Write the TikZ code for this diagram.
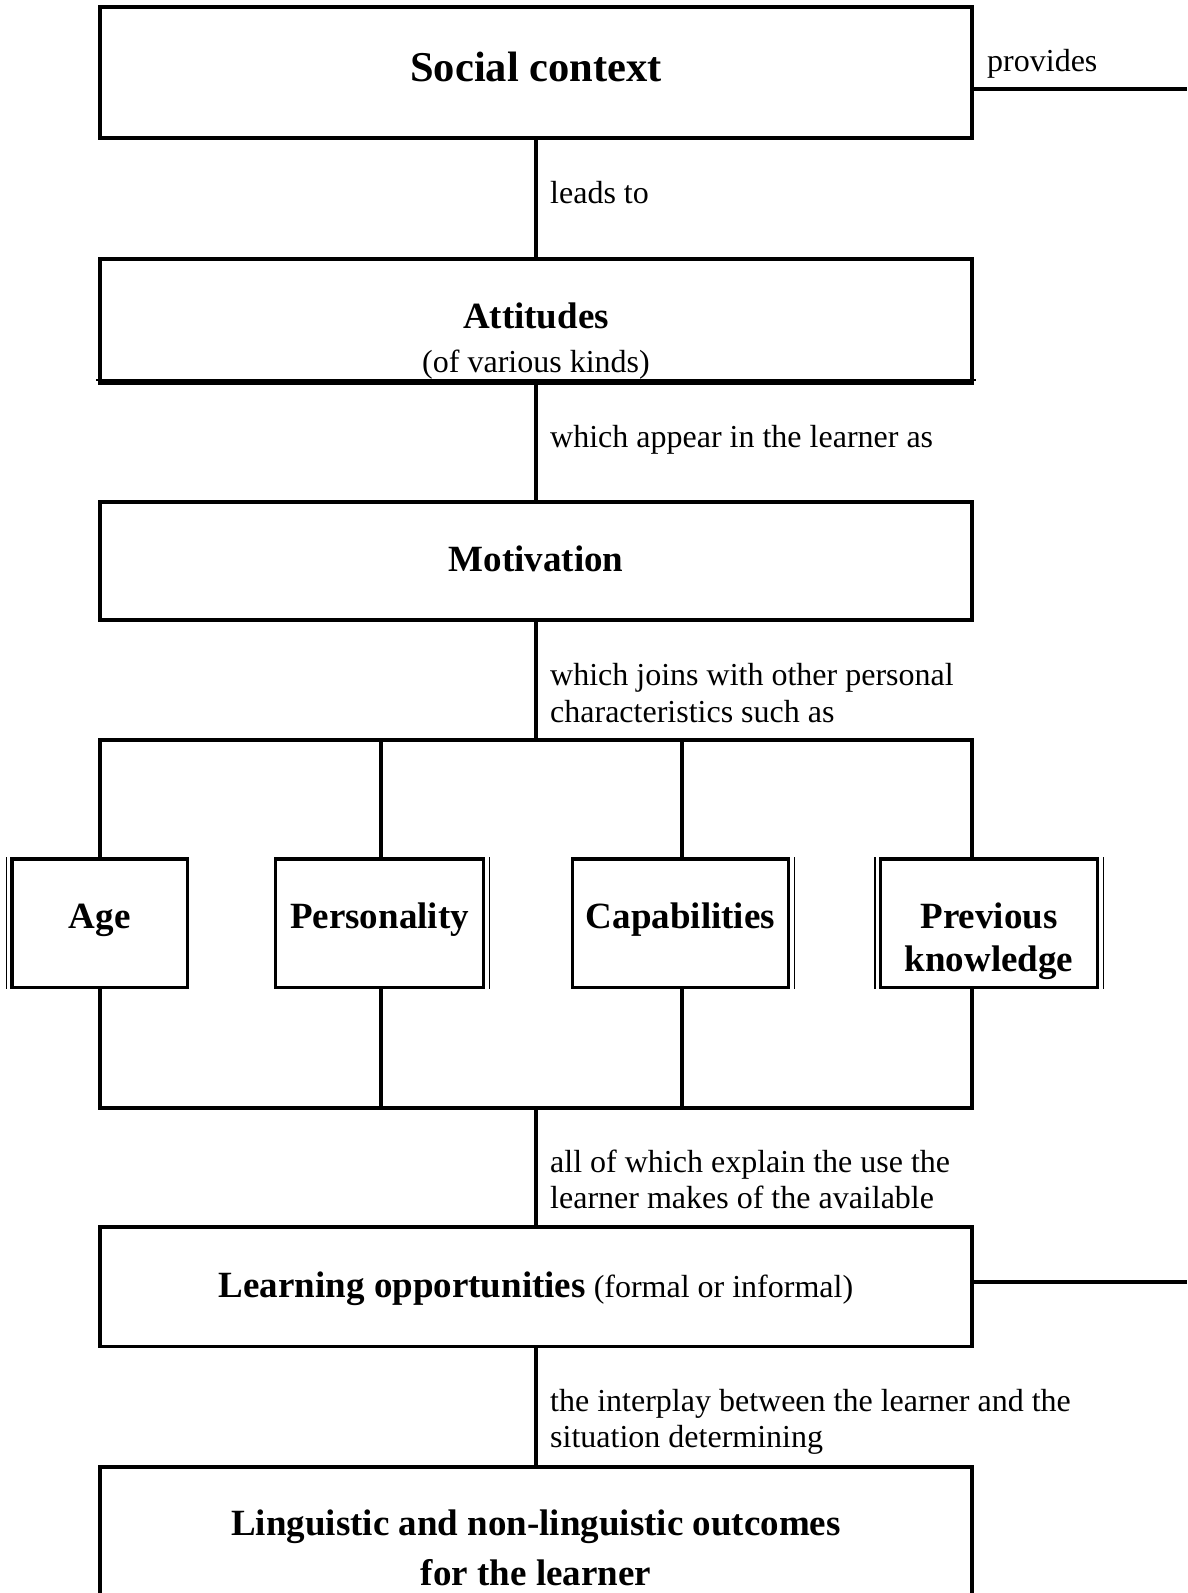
\documentclass[tikz,border=0pt]{standalone}
\usepackage{fontspec}
\setmainfont{Liberation Serif}
\begin{document}
\begin{tikzpicture}[x=1pt,y=-1pt,
  mainbox/.style={draw, line width=3.6pt, rectangle, minimum width=872pt, inner sep=0pt},
  smallbox/.style={draw, line width=3.6pt, rectangle, inner sep=0pt, minimum height=128.5pt},
  conn/.style={line width=3.6pt},
  thinline/.style={line width=1.2pt},
  headbig/.style={font=\fontsize{42.5}{50}\selectfont\bfseries, anchor=base, inner sep=0pt},
  head/.style={font=\fontsize{37}{43}\selectfont\bfseries, anchor=base, inner sep=0pt},
  sub/.style={font=\fontsize{32}{36}\selectfont, anchor=base, inner sep=0pt},
  lab/.style={font=\fontsize{32}{36}\selectfont, anchor=base west, inner sep=0pt}]
\useasboundingbox (0,0) rectangle (1187,1593);

% main boxes
\node[mainbox, minimum height=131pt] (social) at (536,72.5) {};
\node[mainbox, minimum height=124pt] (att) at (536,321) {};
\node[mainbox, minimum height=118pt] (mot) at (536,561) {};
\node[mainbox, minimum height=119.5pt] (learn) at (536,1286.75) {};
\node[mainbox, minimum height=200pt] (out) at (536,1567) {};

% small boxes
\node[smallbox, minimum width=175.5pt] (age) at (99.75,923.25) {};
\node[smallbox, minimum width=208pt] (pers) at (379.5,923.25) {};
\node[smallbox, minimum width=216pt] (cap) at (680.5,923.25) {};
\node[smallbox, minimum width=217pt] (prev) at (989,923.25) {};

% double edges
\draw[thinline] ([xshift=-3.8pt]age.north west) -- ([xshift=-3.8pt]age.south west);
\draw[thinline] ([xshift=3.8pt]pers.north east) -- ([xshift=3.8pt]pers.south east);
\draw[thinline] ([xshift=3.8pt]cap.north east) -- ([xshift=3.8pt]cap.south east);
\draw[thinline] ([xshift=-3.8pt]prev.north west) -- ([xshift=-3.8pt]prev.south west);
\draw[thinline] ([xshift=3.8pt]prev.north east) -- ([xshift=3.8pt]prev.south east);
\draw[thinline] ([xshift=-1.8pt,yshift=4.8pt]att.south west) -- ([xshift=1.8pt,yshift=4.8pt]att.south east);

% texts in boxes
\node[headbig] (socialt) at (536,81) {Social context};
\node[head] (attt) at (536,328) {Attitudes};
\node[sub] (atts) at (536,372) {(of various kinds)};
\node[head] (mott) at (536,571) {Motivation};
\node[head] (aget) at (age.center |- 0,928) {Age};
\node[head] (perst) at (pers.center |- 0,928) {Personality};
\node[head] (capt) at (cap.center |- 0,928) {Capabilities};
\node[head] (prevt1) at (prev.center |- 0,928) {Previous};
\node[head] (prevt2) at (prev.center |- 0,971) {knowledge};
\node[anchor=base, inner sep=0pt] (learnt) at (536,1297)
  {\fontsize{37}{43}\selectfont\bfseries Learning opportunities\fontsize{32}{36}\selectfont\mdseries{} (formal or informal)};
\node[head] (outt1) at (536,1535) {Linguistic and non-linguistic outcomes};
\node[head] (outt2) at (536,1585) {for the learner};

% connectors
\coordinate (provR) at (1187,89);
\draw[conn] (social.east |- provR) -- (provR);
\node[lab] (provt) at (987,71.5) {provides};

\draw[conn] (social.south) -- (att.north);
\node[lab] (l1) at (550,203) {leads to};

\draw[conn] (att.south) -- (mot.north);
\node[lab] (l2) at (550,447) {which appear in the learner as};

\coordinate (tbL) at (100,740);
\coordinate (tbR) at (972,740);
\draw[conn] (mot.south) -- (mot.south |- tbL);
\node[lab] (l3a) at (550,685) {which joins with other personal};
\node[lab] (l3b) at (550,722) {characteristics such as};
\draw[conn] (tbL |- age.north) -- (tbL) -- (tbR) -- (tbR |- prev.north);
\draw[conn] (pers.north -| 381,0) -- (381,740);
\draw[conn] (cap.north -| 682,0) -- (682,740);

\coordinate (bbL) at (100,1108);
\coordinate (bbR) at (972,1108);
\draw[conn] (bbL |- age.south) -- (bbL) -- (bbR) -- (bbR |- prev.south);
\draw[conn] (pers.south -| 381,0) -- (381,1108);
\draw[conn] (cap.south -| 682,0) -- (682,1108);

\draw[conn] (learn.north |- bbL) -- (learn.north);
\node[lab] (l4a) at (550,1172) {all of which explain the use the};
\node[lab] (l4b) at (550,1208) {learner makes of the available};

\coordinate (learnR) at (1187,1282);
\draw[conn] (learn.east |- learnR) -- (learnR);

\draw[conn] (learn.south) -- (out.north);
\node[lab] (l5a) at (550,1411) {the interplay between the learner and the};
\node[lab] (l5b) at (550,1447) {situation determining};
\end{tikzpicture}
\end{document}
